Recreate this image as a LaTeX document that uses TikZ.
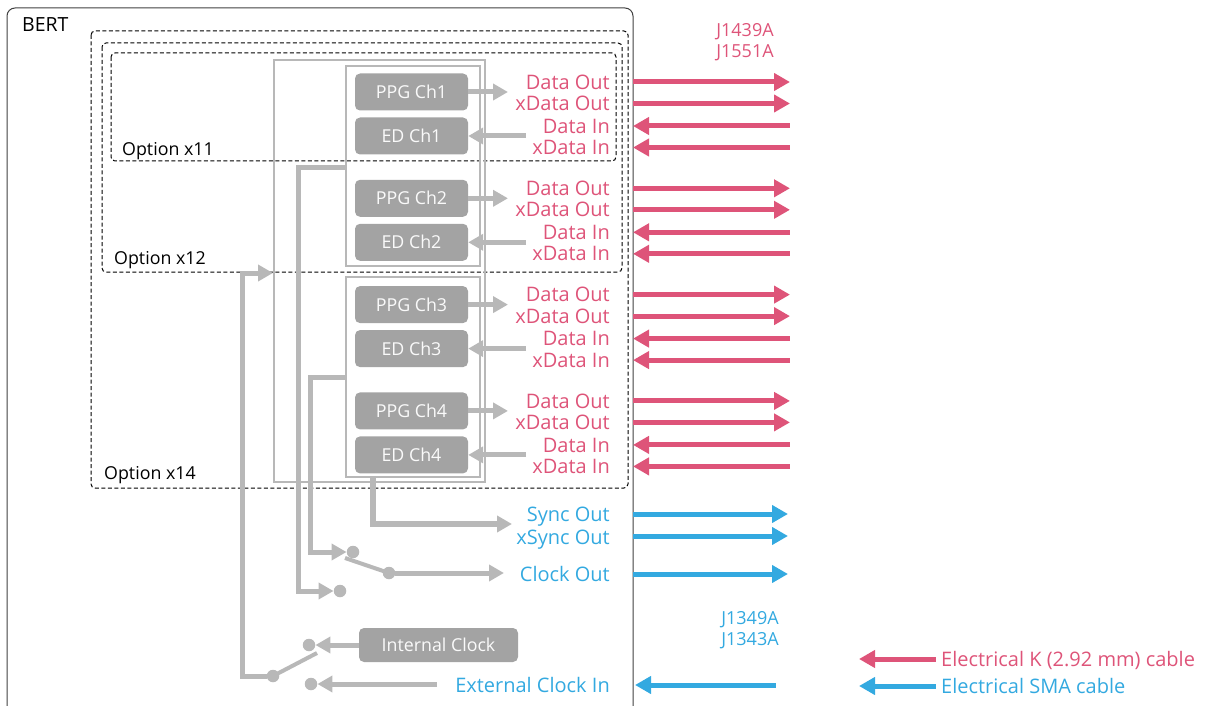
\documentclass[tikz,border=0pt]{standalone}
\usepackage{fontspec}
\setmainfont{Open Sans}
\usetikzlibrary{arrows.meta,positioning}
\definecolor{kpink}{HTML}{DE5479}
\definecolor{smablue}{HTML}{33A9E0}
\definecolor{unitgray}{HTML}{A3A3A3}
\definecolor{wiregray}{HTML}{B8B8B8}
\tikzset{
  basic/.style   = {inner sep=0pt, font=\fontsize{20}{23}\selectfont},
  unit/.style    = {basic, fill=unitgray, text=white!96!gray, rounded corners=5pt,
                    minimum width=113pt, minimum height=37pt,
                    font=\fontsize{17.8}{21}\selectfont},
  port/.style    = {basic, anchor=base east, yshift=-7.1pt},
  kport/.style   = {port, text=kpink},
  sport/.style   = {port, text=smablue},
  tag/.style     = {basic, font=\fontsize{17.8}{21}\selectfont, anchor=base west,
                    yshift=-6.4pt},
  jack/.style    = {basic, font=\fontsize{18}{21}\selectfont},
  option/.style  = {draw=black, line width=1pt, dash pattern=on 4pt off 2.5pt,
                    rounded corners=4pt},
  frame/.style   = {draw=wiregray, line width=2pt, inner sep=0pt},
  wire/.style    = {draw=wiregray, line width=5pt},
  feed/.style    = {wire, -{Triangle[length=15pt,width=16pt]}},
  lever/.style   = {draw=wiregray, line width=4pt},
  cable/.style   = {line width=5pt},
  txcable/.style = {cable, -{Triangle[length=16pt,width=17pt]}},
  rxcable/.style = {cable, {Triangle[length=16pt,width=17pt]}-},
  contact/.style = {circle, fill=wiregray, minimum size=12.5pt, inner sep=0pt}
}

\begin{document}
\begin{tikzpicture}[x=1pt, y=-1pt]
  \useasboundingbox (0,0) rectangle (1208,706);

  % BERT chassis, open at the bottom
  \draw[black!75, line width=1pt, rounded corners=8pt] (7,706) |- (633,8) -- (633,706);
  \node[tag, font=\fontsize{19.5}{22}\selectfont] (bert) at (22,25) {BERT};

  % option outlines
  \draw[option] (91,31) rectangle (628,488);
  \draw[option] (102,43) rectangle (622,272);
  \draw[option] (111,53) rectangle (616,161);
  \node[tag] (opt11) at (122,149) {Option x11};
  \node[tag] (opt12) at (114,258) {Option x12};
  \node[tag] (opt14) at (104,473) {Option x14};

  % channel groups
  \node[frame, minimum width=211pt, minimum height=422pt] (grpAll) at (379.5,271) {};
  \node[frame, minimum width=134pt, minimum height=200pt] (grpA) at (413,166) {};
  \node[frame, minimum width=134pt, minimum height=200pt] (grpB) at (413,377) {};

  % one PPG/ED pair per channel, with its ports and cables
  \foreach \c in {1,...,4}{
    \pgfmathsetmacro{\yc}{92+106.3*(\c-1)}
    \node[unit] (ppg\c) at (411.5,\yc) {PPG Ch\c};
    \node[unit] (ed\c) at (411.5,\yc+44) {ED Ch\c};
    \coordinate (tx\c) at (508,\yc);
    \coordinate (rx\c) at (526,\yc+44);
    \draw[feed] (ppg\c) -- (tx\c);
    \draw[feed] (rx\c) -- (ed\c);
    \node[kport] (do\c) at (610,\yc-10) {Data Out};
    \node[kport] (xdo\c) at (610,\yc+11.5) {xData Out};
    \node[kport] (di\c) at (610,\yc+34) {Data In};
    \node[kport] (xdi\c) at (610,\yc+55.5) {xData In};
    \foreach \dy/\dir [count=\k] in {-10/txcable, 11.5/txcable, 34/rxcable, 55.5/rxcable}{
      \coordinate (pan\c\k) at (633,\yc+\dy);
      \coordinate (con\c\k) at (790,\yc+\dy);
      \draw[\dir, kpink] (pan\c\k) -- (con\c\k);
    }
  }
  \node[jack, text=kpink] (j1439) at (745,32) {J1439A};
  \node[jack, text=kpink] (j1551) at (745,53) {J1551A};

  % sync output
  \coordinate (syncend) at (512,524);
  \draw[feed, line width=6pt] ([xshift=-40pt]grpB.south) |- (syncend);

  % clock output switch
  \node[contact] (sw1a) at (353,552) {};
  \node[contact] (sw1b) at (340,591) {};
  \node[contact] (sw1c) at (389,573) {};
  \coordinate (tapA) at (298,168);
  \coordinate (tapB) at (310,377);
  \coordinate (lev1) at (345,558);
  \coordinate (clkend) at (504,573);
  \draw[feed] (grpA.west |- tapA) -- (tapA) |- (sw1b);
  \draw[feed] (grpB.west |- tapB) -- (tapB) |- (sw1a);
  \draw[lever] (lev1) -- (sw1c.center);
  \draw[feed] (sw1c) -- (clkend);

  % clock input switch
  \node[unit, minimum width=159pt, minimum height=34pt] (intclk) at (438.5,645) {Internal Clock};
  \node[contact] (sw2a) at (309,645) {};
  \node[contact] (sw2b) at (311,684) {};
  \node[contact] (sw2c) at (273,676) {};
  \coordinate (extin) at (437,684);
  \coordinate (lev2) at (317,653);
  \coordinate (clkbus) at (242,273);
  \draw[feed] (intclk) -- (sw2a);
  \draw[feed] (extin) -- (sw2b);
  \draw[lever] (sw2c.center) -- (lev2);
  \draw[feed] (sw2c) -| (clkbus) -- (grpAll.west |- clkbus);

  % clock and sync ports
  \node[sport] (syncout) at (610,514) {Sync Out};
  \node[sport] (xsyncout) at (610,537) {xSync Out};
  \node[sport] (clockout) at (610,574) {Clock Out};
  \node[sport] (extclkin) at (610,685) {External Clock In};
  \foreach \y [count=\k] in {514,536,574}{
    \coordinate (span\k) at (633,\y);
    \coordinate (scon\k) at (788,\y);
    \draw[txcable, smablue] (span\k) -- (scon\k);
  }
  \coordinate (spanin) at (635,685);
  \coordinate (sconin) at (776,685);
  \draw[rxcable, smablue] (spanin) -- (sconin);
  \node[jack, text=smablue] (j1349) at (750,620) {J1349A};
  \node[jack, text=smablue] (j1343) at (750,641) {J1343A};

  % legend
  \coordinate (ktip) at (859,659);
  \coordinate (ktail) at (936,659);
  \coordinate (stip) at (859,686);
  \coordinate (stail) at (936,686);
  \draw[rxcable, kpink] (ktip) -- (ktail);
  \draw[rxcable, smablue] (stip) -- (stail);
  \node[basic, text=kpink, anchor=base west, yshift=-7.1pt] (klegend) at (941,659)
    {Electrical K (2.92 mm) cable};
  \node[basic, text=smablue, anchor=base west, yshift=-7.1pt] (slegend) at (941,686)
    {Electrical SMA cable};
\end{tikzpicture}
\end{document}
